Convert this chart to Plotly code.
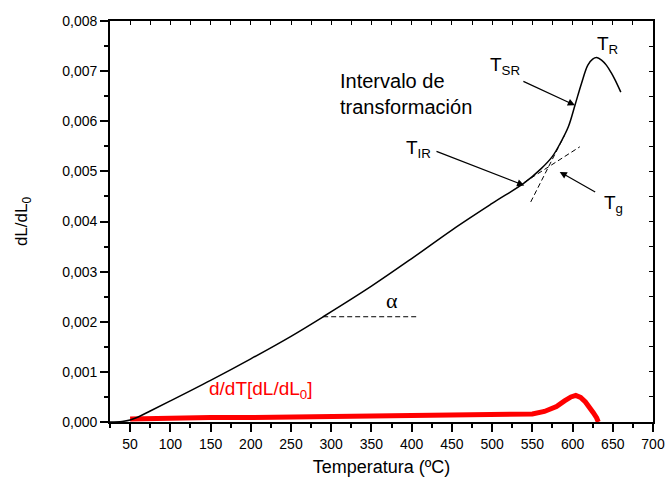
import plotly.graph_objects as go

# Black curve: dL/dL0 vs temperature
temp_black = [25, 40, 50, 60, 75, 100, 150, 200, 250, 290, 350, 400, 450, 500, 540,
              560, 575, 586, 595, 603, 611, 619, 625, 630, 636, 642, 648, 653, 660]
dl_black = [0.0, 0.00001, 0.00004, 0.0001, 0.00022, 0.00042, 0.00083, 0.00126, 0.00171,
            0.0021, 0.00271, 0.00326, 0.00383, 0.00436, 0.00477, 0.00504, 0.0053, 0.0056,
            0.0059, 0.00632, 0.00675, 0.00712, 0.00724, 0.00727, 0.00722, 0.00712, 0.00697,
            0.00682, 0.00658]

# Red curve: derivative d/dT[dL/dL0]
temp_red = [50, 100, 150, 200, 250, 300, 350, 400, 450, 500, 530, 550, 565, 580, 590,
            598, 604, 610, 616, 621, 626, 630, 632]
dl_red = [0.00006, 0.00008, 0.00009, 0.00009, 0.0001, 0.0001, 0.0001, 0.00011, 0.00012,
          0.00013, 0.00015, 0.00016, 0.00021, 0.00031, 0.00042, 0.0005, 0.00053, 0.00049,
          0.0004, 0.0003, 0.00018, 0.00008, 0.0]

# Construction lines
alpha_x = [290, 409]
alpha_y = [0.0021, 0.0021]
tan_steep_x = [548, 590]
tan_steep_y = [0.00439, 0.00572]
tan_shallow_x = [540, 609]
tan_shallow_y = [0.00478, 0.00549]

x_ticks = list(range(50, 701, 50))
y_ticks = [0.000, 0.001, 0.002, 0.003, 0.004, 0.005, 0.006, 0.007, 0.008]

FONT = "Liberation Sans, Arial, sans-serif"

fig = go.Figure()
fig.add_trace(go.Scatter(x=temp_red, y=dl_red, mode="lines",
                         line=dict(color="#ff0000", width=5), hoverinfo="skip"))
fig.add_trace(go.Scatter(x=temp_black, y=dl_black, mode="lines",
                         line=dict(color="black", width=1.5, shape="spline", smoothing=1),
                         hoverinfo="skip"))
for xs, ys in [(alpha_x, alpha_y), (tan_steep_x, tan_steep_y), (tan_shallow_x, tan_shallow_y)]:
    fig.add_trace(go.Scatter(x=xs, y=ys, mode="lines",
                             line=dict(color="black", width=1, dash="5px,3px"),
                             hoverinfo="skip"))
# dummy trace for the mirrored inside-tick axes
fig.add_trace(go.Scatter(x=[300], y=[0.004], xaxis="x2", yaxis="y2", mode="markers",
                         marker=dict(opacity=0), hoverinfo="skip"))

xr = [25, 700]
yr = [0, 0.008]

fig.update_layout(
    width=665, height=481,
    margin=dict(l=110, r=12, t=21, b=59),
    paper_bgcolor="white", plot_bgcolor="white",
    showlegend=False,
    separators=",.",
    font=dict(family=FONT, size=14, color="black"),
    xaxis=dict(range=xr, tickvals=x_ticks, showgrid=False, zeroline=False, automargin=False,
               showline=True, linecolor="black", linewidth=1.7, mirror=True,
               ticks="outside", ticklen=8, tickwidth=1.5, tickcolor="black",
               minor=dict(ticks="outside", ticklen=4, tickwidth=1.5, dtick=25, tick0=25,
                          tickcolor="black"),
               tickfont=dict(size=14),
               title=dict(text="Temperatura (ºC)", font=dict(size=18), standoff=10)),
    yaxis=dict(range=yr, tickvals=y_ticks, tickformat=".3f", showgrid=False, zeroline=False,
               automargin=False,
               showline=True, linecolor="black", linewidth=1.7, mirror=True,
               ticks="outside", ticklen=8, tickwidth=1.5, tickcolor="black",
               minor=dict(ticks="outside", ticklen=4, tickwidth=1.5, dtick=0.0005,
                          tick0=0, tickcolor="black"),
               tickfont=dict(size=14),
               title=dict(text="dL/dL<sub>0</sub>", font=dict(size=17), standoff=30)),
    xaxis2=dict(range=xr, overlaying="x", side="top", showgrid=False, zeroline=False,
                automargin=False,
                showline=False, showticklabels=False, tickvals=x_ticks,
                ticks="inside", ticklen=4, tickwidth=1, tickcolor="black",
                minor=dict(ticks="inside", ticklen=4, tickwidth=1, dtick=25, tick0=25,
                           tickcolor="black")),
    yaxis2=dict(range=yr, overlaying="y", side="right", showgrid=False, zeroline=False,
                automargin=False,
                showline=False, showticklabels=False, tickvals=y_ticks,
                ticks="inside", ticklen=4, tickwidth=1, tickcolor="black",
                minor=dict(ticks="inside", ticklen=4, tickwidth=1, dtick=0.0005, tick0=0,
                           tickcolor="black")),
)

ann_font = dict(family=FONT, size=19, color="black")
# Text labels
fig.add_annotation(x=309, y=0.00654, xref="x", yref="y", text="Intervalo de<br>transformación",
                   showarrow=False, xanchor="left", yanchor="middle", align="left",
                   font=dict(family=FONT, size=20, color="black"))
fig.add_annotation(x=628, y=0.00752, text="T<sub>R</sub>", showarrow=False,
                   xanchor="left", yanchor="middle", font=ann_font)
fig.add_annotation(x=495, y=0.00710, text="T<sub>SR</sub>", showarrow=False,
                   xanchor="left", yanchor="middle", font=ann_font)
fig.add_annotation(x=390, y=0.00545, text="T<sub>IR</sub>", showarrow=False,
                   xanchor="left", yanchor="middle", font=ann_font)
fig.add_annotation(x=636, y=0.00434, text="T<sub>g</sub>", showarrow=False,
                   xanchor="left", yanchor="middle", font=ann_font)
fig.add_annotation(x=376, y=0.00243, text="α", showarrow=False,
                   xanchor="center", yanchor="middle",
                   font=dict(family="Liberation Serif, Times New Roman, serif", size=22, color="black"))
fig.add_annotation(x=146, y=0.00063, text="d/dT[dL/dL<sub>0</sub>]", showarrow=False,
                   xanchor="left", yanchor="middle",
                   font=dict(family=FONT, size=19, color="#ff0000"))

# Arrows
arrows = [
    # (head_x, head_y, tail_x, tail_y)
    (603, 0.00632, 537, 0.00681),   # T_SR
    (540, 0.00472, 429, 0.00541),   # T_IR
    (584, 0.00499, 630, 0.00457),   # T_g
]
for hx, hy, tx, ty in arrows:
    fig.add_annotation(x=hx, y=hy, ax=tx, ay=ty, xref="x", yref="y", axref="x", ayref="y",
                       text="", showarrow=True, arrowhead=2, arrowsize=1.2, arrowwidth=1.2,
                       arrowcolor="black", standoff=0)

fig.write_html("out.html")
